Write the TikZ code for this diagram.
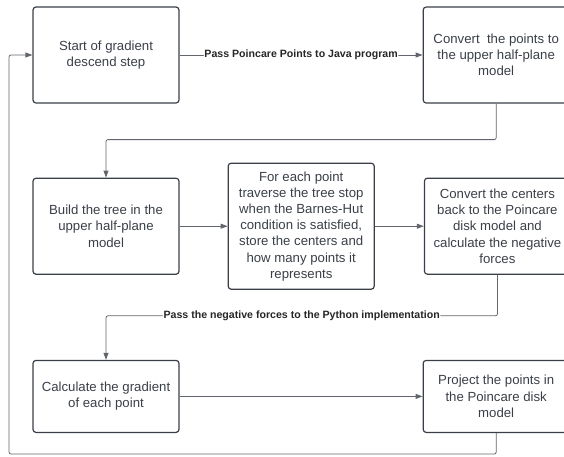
\documentclass[tikz,border=0pt]{standalone}
\usepackage{fontspec}
\setmainfont{Liberation Sans}
\usepackage{tikz}
\usetikzlibrary{positioning,arrows.meta}
\definecolor{boxline}{HTML}{3A3F47}
\definecolor{wiregray}{HTML}{62666C}
\definecolor{boxtext}{HTML}{3A3F47}

\begin{document}
\begin{tikzpicture}[
    x=1pt, y=1pt,
    node distance=48pt,
    box/.style={draw=boxline, line width=1.2pt, rectangle, rounded corners=3pt, align=center, text=boxtext, minimum width=146pt, minimum height=96pt, inner sep=2pt, font=\fontsize{13.2}{16.2}\selectfont},
    wire/.style={draw=wiregray, line width=0.8pt, rounded corners=2pt},
    lbl/.style={fill=white, inner sep=0.6pt, font=\fontsize{10.6}{12}\selectfont\bfseries, text=black!85},
    >={Triangle[length=7pt,width=5pt]}
  ]
    \useasboundingbox (0,0) rectangle (564,-456);

    % Top row
    \node[box] (start) at (106,-55) {Start of gradient\\descend step};
    \node[box, right=243pt of start] (convert) {Convert~ the points to\\the upper half-plane\\model};

    % Middle row: tree and Barnes-Hut
    \node[box, below=74pt of start] (build) {Build the tree in the\\upper half-plane\\model};
    \node[box, right=48pt of build, minimum height=126pt] (traverse) {For each point\\traverse the tree stop\\when the Barnes-Hut\\condition is satisfied,\\store the centers and\\how many points it\\represents};
    \node[box, right=49pt of traverse] (centers) {Convert the centers\\back to the Poincare\\disk model and\\calculate the negative\\forces};

    % Bottom row
    \node[box, below=85pt of build, minimum height=72pt] (gradient) {Calculate the gradient\\of each point};
    \node[box, right=243pt of gradient, minimum height=72pt] (project) {Project the points in\\the Poincare disk\\model};

    % Connectors
    \draw[wire, ->] (start) -- node[lbl] {Pass Poincare Points to Java program} (convert);
    \draw[wire, ->] (convert.south) -- ++(0,-36) -| (build.north);
    \draw[wire, ->] (build) -- (traverse);
    \draw[wire, ->] (traverse) -- (centers);
    \draw[wire, ->] (centers.south) -- ++(0,-41) -| node[lbl, pos=0.25] {Pass the negative forces to the Python implementation} (gradient.north);
    \draw[wire, ->] (gradient) -- (project);

    % Back to the start
    \coordinate (loopcorner) at (9,-454);
    \draw[wire, ->] (project.south) |- (loopcorner) |- (start.west);

  \end{tikzpicture}
\end{document}
